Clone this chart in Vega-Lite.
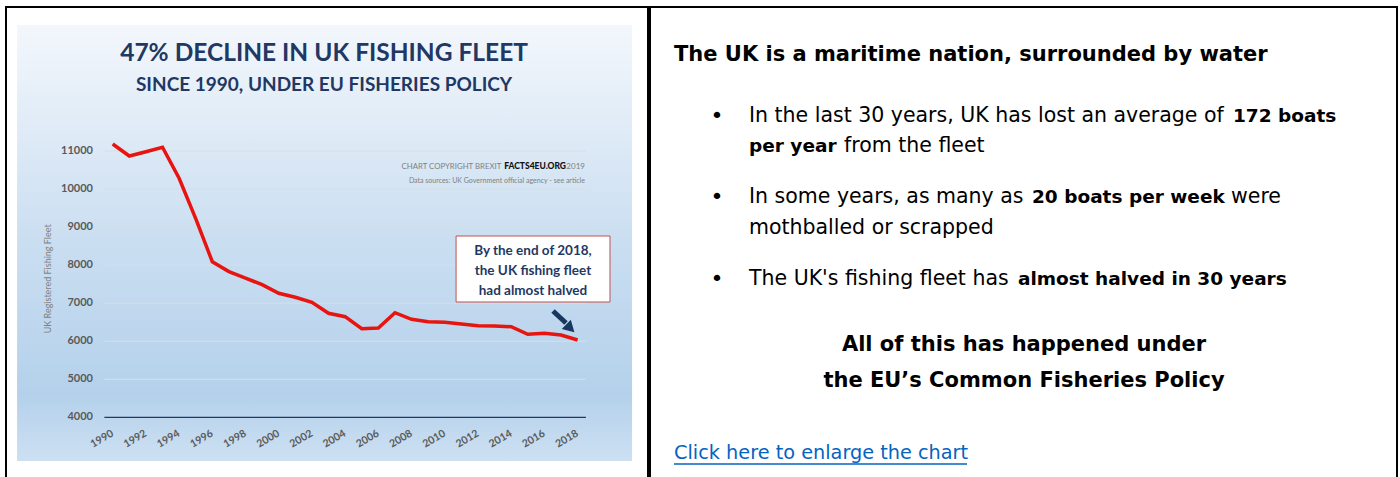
{
  "$schema": "https://vega.github.io/schema/vega-lite/v6.json",
  "padding": {"left": 5, "top": 6, "right": 0, "bottom": 0},
  "background": "white",
  "spacing": 0,
  "config": {"view": {"stroke": "black", "strokeWidth": 2}, "font": "Lato"},
  "datasets": {
    "fleet": [
      {"year": 1990, "boats": 11185}, {"year": 1991, "boats": 10869}, {"year": 1992, "boats": 10982},
      {"year": 1993, "boats": 11098}, {"year": 1994, "boats": 10283}, {"year": 1995, "boats": 9221},
      {"year": 1996, "boats": 8090}, {"year": 1997, "boats": 7830}, {"year": 1998, "boats": 7660},
      {"year": 1999, "boats": 7486}, {"year": 2000, "boats": 7260}, {"year": 2001, "boats": 7155},
      {"year": 2002, "boats": 7023}, {"year": 2003, "boats": 6734}, {"year": 2004, "boats": 6645},
      {"year": 2005, "boats": 6329}, {"year": 2006, "boats": 6348}, {"year": 2007, "boats": 6750},
      {"year": 2008, "boats": 6576}, {"year": 2009, "boats": 6513}, {"year": 2010, "boats": 6497},
      {"year": 2011, "boats": 6453}, {"year": 2012, "boats": 6408}, {"year": 2013, "boats": 6400},
      {"year": 2014, "boats": 6382}, {"year": 2015, "boats": 6182}, {"year": 2016, "boats": 6208},
      {"year": 2017, "boats": 6164}, {"year": 2018, "boats": 6032}
    ],
    "grid": [{"v": 5000}, {"v": 6000}, {"v": 7000}, {"v": 8000}, {"v": 9000}, {"v": 10000}, {"v": 11000}],
    "yticks": [{"v": 4000}, {"v": 5000}, {"v": 6000}, {"v": 7000}, {"v": 8000}, {"v": 9000}, {"v": 10000}, {"v": 11000}],
    "xticks": [{"year": 1990}, {"year": 1992}, {"year": 1994}, {"year": 1996}, {"year": 1998}, {"year": 2000}, {"year": 2002}, {"year": 2004}, {"year": 2006}, {"year": 2008}, {"year": 2010}, {"year": 2012}, {"year": 2014}, {"year": 2016}, {"year": 2018}]
  },
  "hconcat": [
    {
      "width": 642,
      "height": 472,
      "layer": [
        {
          "data": {"values": [{"panel": "chart image"}]},
          "mark": {"type": "rect", "fill": {"gradient": "linear", "x1": 0, "y1": 0, "x2": 0, "y2": 1, "stops": [{"offset": 0, "color": "#f3f7fc"}, {"offset": 0.5, "color": "#cadef1"}, {"offset": 0.85, "color": "#b4d1eb"}, {"offset": 1, "color": "#cde0f2"}]}},
          "encoding": {
            "x": {"datum": 1984.24, "type": "quantitative", "scale": {"domain": [1983.574, 2022.239], "nice": false, "zero": false}, "axis": null},
            "x2": {"datum": 2021.28},
            "y": {"datum": 14313, "type": "quantitative", "scale": {"domain": [2378, 14786], "nice": false, "zero": false}, "axis": null},
            "y2": {"datum": 2851}
          }
        },
        {
          "data": {"name": "grid"},
          "mark": {"type": "rule", "color": "#d8dee6", "strokeWidth": 1},
          "encoding": {
            "x": {"datum": 1989.5, "type": "quantitative"},
            "x2": {"datum": 2018.5},
            "y": {"field": "v", "type": "quantitative"}
          }
        },
        {
          "data": {"values": [{"v": 4000}]},
          "mark": {"type": "rule", "color": "#1f3864", "strokeWidth": 1.3},
          "encoding": {
            "x": {"datum": 1989.5, "type": "quantitative"},
            "x2": {"datum": 2018.5},
            "y": {"field": "v", "type": "quantitative"}
          }
        },
        {
          "data": {"name": "fleet"},
          "mark": {"type": "line", "color": "#e8140f", "strokeWidth": 3.5},
          "encoding": {
            "x": {"field": "year", "type": "quantitative"},
            "y": {"field": "boats", "type": "quantitative"}
          }
        },
        {
          "data": {"name": "yticks"},
          "mark": {"type": "text", "font": "Lato", "fontWeight": "bold", "fontSize": 11, "color": "#595959", "align": "right", "baseline": "middle"},
          "encoding": {
            "x": {"datum": 1988.81, "type": "quantitative"},
            "y": {"field": "v", "type": "quantitative"},
            "text": {"field": "v", "type": "quantitative", "format": "d"}
          }
        },
        {
          "data": {"name": "xticks"},
          "mark": {"type": "text", "font": "Lato", "fontWeight": "bold", "fontSize": 10.5, "color": "#595959", "align": "right", "baseline": "middle", "angle": 330},
          "encoding": {
            "x": {"field": "year", "type": "quantitative"},
            "y": {"datum": 3590, "type": "quantitative"},
            "text": {"field": "year", "type": "nominal"}
          }
        },
        {
          "data": {"values": [{"t": "UK Registered Fishing Fleet"}]},
          "mark": {"type": "text", "font": "Lato", "fontSize": 9, "color": "#7f7f7f", "align": "center", "baseline": "middle", "angle": 270},
          "encoding": {
            "x": {"datum": 1986.1, "type": "quantitative"},
            "y": {"datum": 7640, "type": "quantitative"},
            "text": {"field": "t"}
          }
        },
        {
          "data": {"values": [{"t": "47% DECLINE IN UK FISHING FLEET"}]},
          "mark": {"type": "text", "font": "Lato", "fontWeight": "bold", "fontSize": 24.5, "color": "#1f3864", "align": "center", "baseline": "middle"},
          "encoding": {
            "x": {"datum": 2002.73, "type": "quantitative"},
            "y": {"datum": 13550, "type": "quantitative"},
            "text": {"field": "t"}
          }
        },
        {
          "data": {"values": [{"t": "SINCE 1990, UNDER EU FISHERIES POLICY"}]},
          "mark": {"type": "text", "font": "Lato", "fontWeight": "bold", "fontSize": 19, "color": "#1f3864", "align": "center", "baseline": "middle"},
          "encoding": {
            "x": {"datum": 2002.73, "type": "quantitative"},
            "y": {"datum": 12740, "type": "quantitative"},
            "text": {"field": "t"}
          }
        },
        {
          "data": {"values": [{"t": "CHART COPYRIGHT BREXIT"}]},
          "mark": {"type": "text", "font": "Lato", "fontSize": 7.8, "color": "#808080", "align": "right", "baseline": "middle"},
          "encoding": {
            "x": {"datum": 2013.4, "type": "quantitative"},
            "y": {"datum": 10580, "type": "quantitative"},
            "text": {"field": "t"}
          }
        },
        {
          "data": {"values": [{"t": "FACTS4EU.ORG"}]},
          "mark": {"type": "text", "font": "Lato", "fontWeight": "900", "fontSize": 8.5, "color": "#111111", "align": "right", "baseline": "middle"},
          "encoding": {
            "x": {"datum": 2017.3, "type": "quantitative"},
            "y": {"datum": 10600, "type": "quantitative"},
            "text": {"field": "t"}
          }
        },
        {
          "data": {"values": [{"t": "2019"}]},
          "mark": {"type": "text", "font": "Lato", "fontSize": 8, "color": "#808080", "align": "right", "baseline": "middle"},
          "encoding": {
            "x": {"datum": 2018.44, "type": "quantitative"},
            "y": {"datum": 10580, "type": "quantitative"},
            "text": {"field": "t"}
          }
        },
        {
          "data": {"values": [{"t": "Data sources: UK Government official agency - see article"}]},
          "mark": {"type": "text", "font": "Lato", "fontSize": 7, "color": "#808080", "align": "right", "baseline": "middle"},
          "encoding": {
            "x": {"datum": 2018.44, "type": "quantitative"},
            "y": {"datum": 10212, "type": "quantitative"},
            "text": {"field": "t"}
          }
        },
        {
          "data": {"values": [{"note": "box"}]},
          "mark": {"type": "rect", "fill": "white", "stroke": "#c0504d", "strokeWidth": 1},
          "encoding": {
            "x": {"datum": 2010.68, "type": "quantitative"},
            "x2": {"datum": 2019.95},
            "y": {"datum": 8766, "type": "quantitative"},
            "y2": {"datum": 7031}
          }
        },
        {
          "data": {"values": [{"t": "By the end of 2018,"}]},
          "mark": {"type": "text", "font": "Lato", "fontWeight": "bold", "fontSize": 13.5, "color": "#1f3864", "align": "center", "baseline": "middle"},
          "encoding": {
            "x": {"datum": 2015.31, "type": "quantitative"},
            "y": {"datum": 8372, "type": "quantitative"},
            "text": {"field": "t"}
          }
        },
        {
          "data": {"values": [{"t": "the UK fishing fleet"}]},
          "mark": {"type": "text", "font": "Lato", "fontWeight": "bold", "fontSize": 13.5, "color": "#1f3864", "align": "center", "baseline": "middle"},
          "encoding": {
            "x": {"datum": 2015.31, "type": "quantitative"},
            "y": {"datum": 7846, "type": "quantitative"},
            "text": {"field": "t"}
          }
        },
        {
          "data": {"values": [{"t": "had almost halved"}]},
          "mark": {"type": "text", "font": "Lato", "fontWeight": "bold", "fontSize": 13.5, "color": "#1f3864", "align": "center", "baseline": "middle"},
          "encoding": {
            "x": {"datum": 2015.31, "type": "quantitative"},
            "y": {"datum": 7320, "type": "quantitative"},
            "text": {"field": "t"}
          }
        },
        {
          "data": {"values": [{"note": "arrow"}]},
          "mark": {"type": "rule", "color": "#17375e", "strokeWidth": 5},
          "encoding": {
            "x": {"datum": 2016.52, "type": "quantitative"},
            "x2": {"datum": 2017.3},
            "y": {"datum": 6794, "type": "quantitative"},
            "y2": {"datum": 6478}
          }
        },
        {
          "data": {"values": [{"note": "arrow head"}]},
          "mark": {"type": "point", "shape": "triangle", "filled": true, "color": "#17375e", "size": 170, "angle": 134, "opacity": 1},
          "encoding": {
            "x": {"datum": 2017.48, "type": "quantitative"},
            "y": {"datum": 6373, "type": "quantitative"}
          }
        }
      ]
    },
    {
      "width": 747,
      "height": 472,
      "layer": [
        {
          "data": {"values": [{"t": "The UK is a maritime nation, surrounded by water"}]},
          "mark": {"type": "text", "font": "DejaVu Sans", "fontWeight": "bold", "fontSize": 21, "color": "black", "align": "left", "baseline": "middle"},
          "encoding": {
            "x": {"datum": 24, "type": "quantitative", "scale": {"domain": [0, 747], "nice": false, "zero": false}, "axis": null},
            "y": {"datum": 48, "type": "quantitative", "scale": {"domain": [0, 472], "nice": false, "zero": false, "reverse": true}, "axis": null},
            "text": {"field": "t"}
          }
        },
        {
          "data": {"values": [{"t": "•"}]},
          "mark": {"type": "text", "font": "DejaVu Sans", "fontSize": 22, "color": "black", "align": "center", "baseline": "middle"},
          "encoding": {"x": {"datum": 67, "type": "quantitative"}, "y": {"datum": 109, "type": "quantitative"}, "text": {"field": "t"}}
        },
        {
          "data": {"values": [{"t": "•"}]},
          "mark": {"type": "text", "font": "DejaVu Sans", "fontSize": 22, "color": "black", "align": "center", "baseline": "middle"},
          "encoding": {"x": {"datum": 67, "type": "quantitative"}, "y": {"datum": 190, "type": "quantitative"}, "text": {"field": "t"}}
        },
        {
          "data": {"values": [{"t": "•"}]},
          "mark": {"type": "text", "font": "DejaVu Sans", "fontSize": 22, "color": "black", "align": "center", "baseline": "middle"},
          "encoding": {"x": {"datum": 67, "type": "quantitative"}, "y": {"datum": 272, "type": "quantitative"}, "text": {"field": "t"}}
        },
        {
          "data": {"values": [{"t": "In the last 30 years, UK has lost an average of"}]},
          "mark": {"type": "text", "font": "DejaVu Sans", "fontSize": 20.5, "color": "black", "align": "left", "baseline": "middle"},
          "encoding": {"x": {"datum": 99, "type": "quantitative"}, "y": {"datum": 109, "type": "quantitative"}, "text": {"field": "t"}}
        },
        {
          "data": {"values": [{"t": "172 boats"}]},
          "mark": {"type": "text", "font": "DejaVu Sans", "fontWeight": "bold", "fontSize": 18.5, "color": "black", "align": "left", "baseline": "middle"},
          "encoding": {"x": {"datum": 583, "type": "quantitative"}, "y": {"datum": 109, "type": "quantitative"}, "text": {"field": "t"}}
        },
        {
          "data": {"values": [{"t": "per year"}]},
          "mark": {"type": "text", "font": "DejaVu Sans", "fontWeight": "bold", "fontSize": 18.5, "color": "black", "align": "left", "baseline": "middle"},
          "encoding": {"x": {"datum": 99, "type": "quantitative"}, "y": {"datum": 139, "type": "quantitative"}, "text": {"field": "t"}}
        },
        {
          "data": {"values": [{"t": "from the fleet"}]},
          "mark": {"type": "text", "font": "DejaVu Sans", "fontSize": 20.5, "color": "black", "align": "left", "baseline": "middle"},
          "encoding": {"x": {"datum": 194, "type": "quantitative"}, "y": {"datum": 139, "type": "quantitative"}, "text": {"field": "t"}}
        },
        {
          "data": {"values": [{"t": "In some years, as many as"}]},
          "mark": {"type": "text", "font": "DejaVu Sans", "fontSize": 20.5, "color": "black", "align": "left", "baseline": "middle"},
          "encoding": {"x": {"datum": 99, "type": "quantitative"}, "y": {"datum": 190, "type": "quantitative"}, "text": {"field": "t"}}
        },
        {
          "data": {"values": [{"t": "20 boats per week"}]},
          "mark": {"type": "text", "font": "DejaVu Sans", "fontWeight": "bold", "fontSize": 18.5, "color": "black", "align": "left", "baseline": "middle"},
          "encoding": {"x": {"datum": 382, "type": "quantitative"}, "y": {"datum": 190, "type": "quantitative"}, "text": {"field": "t"}}
        },
        {
          "data": {"values": [{"t": "were"}]},
          "mark": {"type": "text", "font": "DejaVu Sans", "fontSize": 20.5, "color": "black", "align": "left", "baseline": "middle"},
          "encoding": {"x": {"datum": 581, "type": "quantitative"}, "y": {"datum": 190, "type": "quantitative"}, "text": {"field": "t"}}
        },
        {
          "data": {"values": [{"t": "mothballed or scrapped"}]},
          "mark": {"type": "text", "font": "DejaVu Sans", "fontSize": 20.5, "color": "black", "align": "left", "baseline": "middle"},
          "encoding": {"x": {"datum": 99, "type": "quantitative"}, "y": {"datum": 221, "type": "quantitative"}, "text": {"field": "t"}}
        },
        {
          "data": {"values": [{"t": "The UK's fishing fleet has"}]},
          "mark": {"type": "text", "font": "DejaVu Sans", "fontSize": 20.5, "color": "black", "align": "left", "baseline": "middle"},
          "encoding": {"x": {"datum": 99, "type": "quantitative"}, "y": {"datum": 272, "type": "quantitative"}, "text": {"field": "t"}}
        },
        {
          "data": {"values": [{"t": "almost halved in 30 years"}]},
          "mark": {"type": "text", "font": "DejaVu Sans", "fontWeight": "bold", "fontSize": 18.5, "color": "black", "align": "left", "baseline": "middle"},
          "encoding": {"x": {"datum": 368, "type": "quantitative"}, "y": {"datum": 272, "type": "quantitative"}, "text": {"field": "t"}}
        },
        {
          "data": {"values": [{"t": "All of this has happened under"}]},
          "mark": {"type": "text", "font": "DejaVu Sans", "fontWeight": "bold", "fontSize": 21, "color": "black", "align": "center", "baseline": "middle"},
          "encoding": {"x": {"datum": 374, "type": "quantitative"}, "y": {"datum": 338, "type": "quantitative"}, "text": {"field": "t"}}
        },
        {
          "data": {"values": [{"t": "the EU’s Common Fisheries Policy"}]},
          "mark": {"type": "text", "font": "DejaVu Sans", "fontWeight": "bold", "fontSize": 21, "color": "black", "align": "center", "baseline": "middle"},
          "encoding": {"x": {"datum": 374, "type": "quantitative"}, "y": {"datum": 374, "type": "quantitative"}, "text": {"field": "t"}}
        },
        {
          "data": {"values": [{"t": "Click here to enlarge the chart"}]},
          "mark": {"type": "text", "font": "DejaVu Sans", "fontSize": 19.3, "color": "#0563c1", "align": "left", "baseline": "middle"},
          "encoding": {"x": {"datum": 24, "type": "quantitative"}, "y": {"datum": 446, "type": "quantitative"}, "text": {"field": "t"}}
        },
        {
          "data": {"values": [{"note": "link underline"}]},
          "mark": {"type": "rule", "color": "#0563c1", "strokeWidth": 1.3},
          "encoding": {"x": {"datum": 24, "type": "quantitative"}, "x2": {"datum": 317}, "y": {"datum": 457, "type": "quantitative"}}
        }
      ]
    }
  ]
}
